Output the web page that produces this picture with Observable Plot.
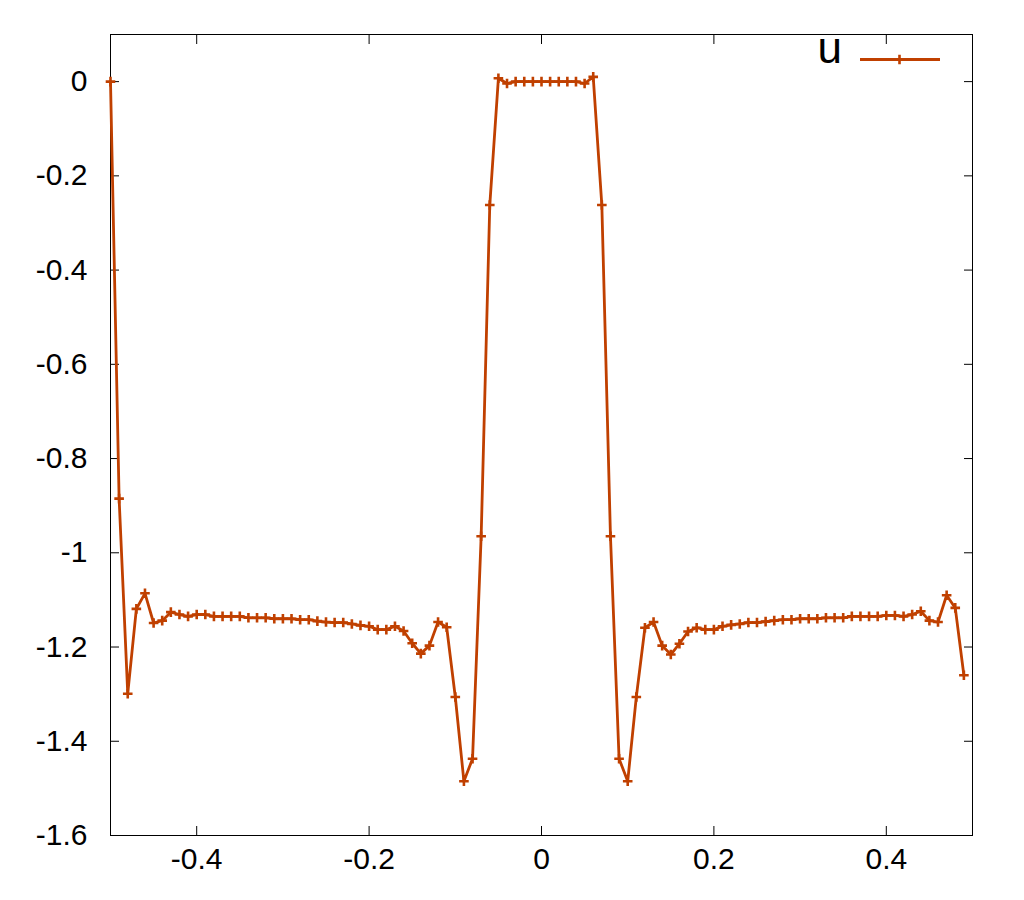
<!DOCTYPE html>
<html>
<head>
<meta charset="utf-8">
<script src="https://cdn.jsdelivr.net/npm/d3@7"></script>
<script src="https://cdn.jsdelivr.net/npm/@observablehq/plot@0.6"></script>
<style>
  html, body { margin: 0; padding: 0; background: white; }
  #chart svg { display: block; }
</style>
</head>
<body>
<div id="chart"></div>
<script>
// ---- data ----
const xVals = [
  -0.50,-0.49,-0.48,-0.47,-0.46,-0.45,-0.44,-0.43,-0.42,-0.41,
  -0.40,-0.39,-0.38,-0.37,-0.36,-0.35,-0.34,-0.33,-0.32,-0.31,
  -0.30,-0.29,-0.28,-0.27,-0.26,-0.25,-0.24,-0.23,-0.22,-0.21,
  -0.20,-0.19,-0.18,-0.17,-0.16,-0.15,-0.14,-0.13,-0.12,-0.11,
  -0.10,-0.09,-0.08,-0.07,-0.06,-0.05,-0.04,-0.03,-0.02,-0.01,
   0.00, 0.01, 0.02, 0.03, 0.04, 0.05, 0.06, 0.07, 0.08, 0.09,
   0.10, 0.11, 0.12, 0.13, 0.14, 0.15, 0.16, 0.17, 0.18, 0.19,
   0.20, 0.21, 0.22, 0.23, 0.24, 0.25, 0.26, 0.27, 0.28, 0.29,
   0.30, 0.31, 0.32, 0.33, 0.34, 0.35, 0.36, 0.37, 0.38, 0.39,
   0.40, 0.41, 0.42, 0.43, 0.44, 0.45, 0.46, 0.47, 0.48, 0.49
];
const uVals = [
   0.000,-0.885,-1.299,-1.119,-1.086,-1.149,-1.144,-1.126,-1.131,-1.135,
  -1.131,-1.131,-1.135,-1.135,-1.135,-1.135,-1.138,-1.138,-1.138,-1.140,
  -1.140,-1.140,-1.142,-1.142,-1.145,-1.147,-1.148,-1.148,-1.151,-1.154,
  -1.156,-1.163,-1.163,-1.156,-1.166,-1.192,-1.214,-1.197,-1.147,-1.158,
  -1.306,-1.485,-1.437,-0.965,-0.262, 0.007,-0.004, 0.000, 0.000, 0.000,
   0.000, 0.000, 0.000, 0.000, 0.000,-0.004, 0.010,-0.262,-0.965,-1.437,
  -1.485,-1.306,-1.159,-1.147,-1.197,-1.216,-1.193,-1.167,-1.159,-1.163,
  -1.163,-1.156,-1.153,-1.151,-1.148,-1.148,-1.146,-1.144,-1.142,-1.142,
  -1.140,-1.140,-1.140,-1.138,-1.138,-1.138,-1.135,-1.135,-1.135,-1.135,
  -1.133,-1.133,-1.135,-1.131,-1.124,-1.144,-1.147,-1.090,-1.117,-1.260
];
const seriesName = "u";
const xTicks = [-0.4, -0.2, 0, 0.2, 0.4];
const xTickLabels = ["-0.4", "-0.2", "0", "0.2", "0.4"];
const yTicks = [0, -0.2, -0.4, -0.6, -0.8, -1, -1.2, -1.4, -1.6];
const yTickLabels = ["0", "-0.2", "-0.4", "-0.6", "-0.8", "-1", "-1.2", "-1.4", "-1.6"];
const xDomain = [-0.5, 0.5];
const yDomain = [-1.6, 0.1];

// ---- build ----
const data = xVals.map((x, i) => ({x, u: uVals[i]}));
const color = "#c04000";
const W = 1024, H = 900;
const mL = 110, mR = 52, mT = 34, mB = 65;

const plusSymbol = {
  draw(context, size) {
    const r = Math.sqrt(size / Math.PI);
    context.moveTo(-r, 0); context.lineTo(r, 0);
    context.moveTo(0, -r); context.lineTo(0, r);
  }
};

const font = "'Liberation Sans', Arial, Helvetica, sans-serif";

const chart = Plot.plot({
  width: W, height: H,
  marginLeft: mL, marginRight: mR, marginTop: mT, marginBottom: mB,
  style: {fontFamily: font, background: "white", color: "black"},
  x: {domain: xDomain},
  y: {domain: yDomain},
  marks: [
    Plot.frame({stroke: "black", strokeWidth: 1}),
    // labels
    Plot.axisX(xTicks, {tickSize: 0, tickPadding: 12, fontSize: 30, label: null,
      tickFormat: d => xTickLabels[xTicks.indexOf(d)]}),
    Plot.axisY(yTicks, {tickSize: 0, tickPadding: 23, fontSize: 30, label: null,
      tickFormat: d => yTickLabels[yTicks.indexOf(d)]}),
    // inward ticks, all four sides
    Plot.axisX(xTicks, {anchor: "bottom", tickSize: 9, dy: -9, text: null, label: null}),
    Plot.axisX(xTicks, {anchor: "top", tickSize: 9, dy: 9, text: null, label: null}),
    Plot.axisY(yTicks, {anchor: "left", tickSize: 9, dx: 9, text: null, label: null}),
    Plot.axisY(yTicks, {anchor: "right", tickSize: 9, dx: -9, text: null, label: null}),
    // data
    Plot.line(data, {x: "x", y: "u", stroke: color, strokeWidth: 2.8}),
    Plot.dot(data, {x: "x", y: "u", symbol: plusSymbol, r: 4.8, stroke: color, strokeWidth: 2.6, fill: "none"})
  ]
});

document.getElementById("chart").appendChild(chart);

// ---- legend (inside the frame, top-right) ----
const svg = d3.select(chart);
const right = W - mR;
const g = svg.append("g").attr("class", "legend");
g.append("text")
  .attr("x", right - 130).attr("y", 63)
  .attr("text-anchor", "end")
  .attr("font-family", font)
  .attr("font-size", 44)
  .attr("fill", "black")
  .text(seriesName);
g.append("line")
  .attr("x1", right - 112).attr("x2", right - 32)
  .attr("y1", 59.5).attr("y2", 59.5)
  .attr("stroke", color).attr("stroke-width", 3);
const mx = right - 72.5;
g.append("path")
  .attr("d", `M${mx - 4.8},59.5H${mx + 4.8}M${mx},${59.5 - 4.8}V${59.5 + 4.8}`)
  .attr("stroke", color).attr("stroke-width", 2.6).attr("fill", "none");
</script>
</body>
</html>
